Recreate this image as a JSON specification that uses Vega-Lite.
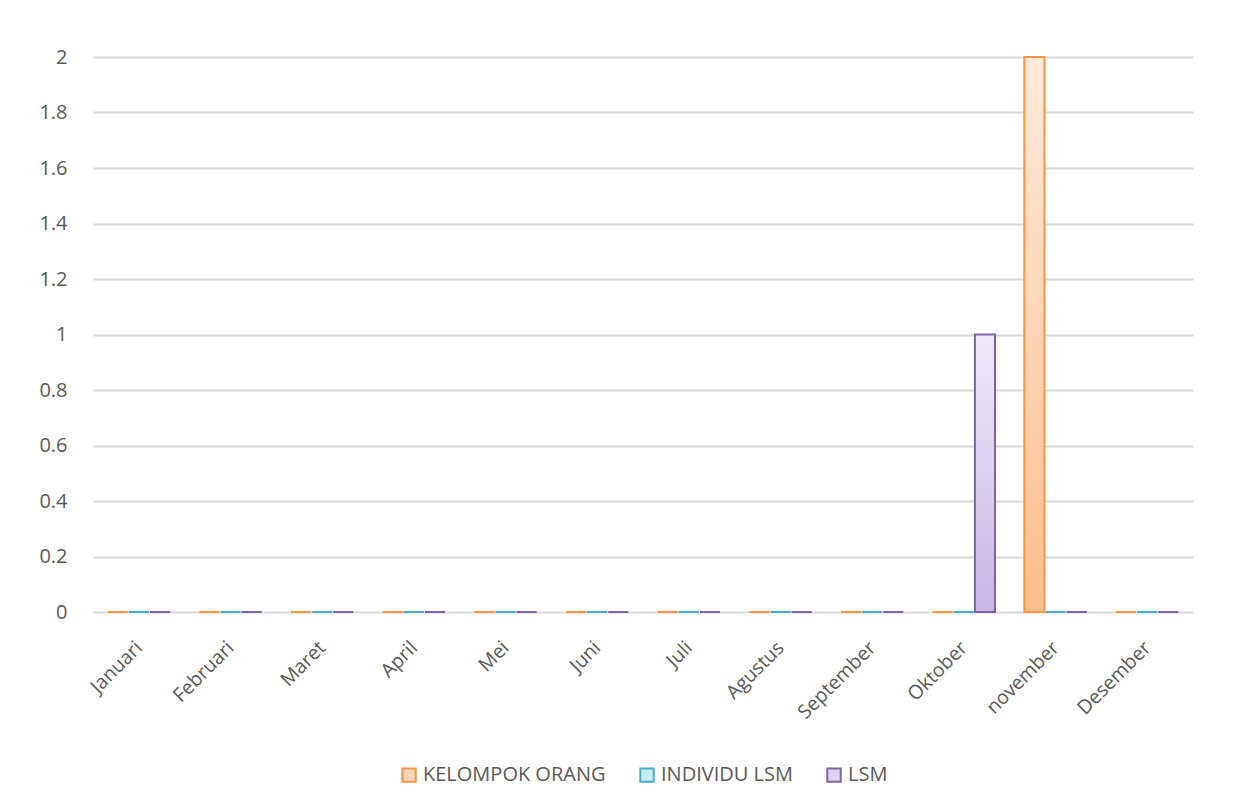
{
  "$schema": "https://vega.github.io/schema/vega-lite/v6.json",
  "width": 1100,
  "height": 555,
  "padding": {"left": 38, "top": 47, "right": 40, "bottom": 10},
  "background": "white",
  "data": {"values": [
    {"bulan":"Januari","seri":"KELOMPOK ORANG","nilai":0},{"bulan":"Januari","seri":"INDIVIDU LSM","nilai":0},{"bulan":"Januari","seri":"LSM","nilai":0},
    {"bulan":"Februari","seri":"KELOMPOK ORANG","nilai":0},{"bulan":"Februari","seri":"INDIVIDU LSM","nilai":0},{"bulan":"Februari","seri":"LSM","nilai":0},
    {"bulan":"Maret","seri":"KELOMPOK ORANG","nilai":0},{"bulan":"Maret","seri":"INDIVIDU LSM","nilai":0},{"bulan":"Maret","seri":"LSM","nilai":0},
    {"bulan":"April","seri":"KELOMPOK ORANG","nilai":0},{"bulan":"April","seri":"INDIVIDU LSM","nilai":0},{"bulan":"April","seri":"LSM","nilai":0},
    {"bulan":"Mei","seri":"KELOMPOK ORANG","nilai":0},{"bulan":"Mei","seri":"INDIVIDU LSM","nilai":0},{"bulan":"Mei","seri":"LSM","nilai":0},
    {"bulan":"Juni","seri":"KELOMPOK ORANG","nilai":0},{"bulan":"Juni","seri":"INDIVIDU LSM","nilai":0},{"bulan":"Juni","seri":"LSM","nilai":0},
    {"bulan":"Juli","seri":"KELOMPOK ORANG","nilai":0},{"bulan":"Juli","seri":"INDIVIDU LSM","nilai":0},{"bulan":"Juli","seri":"LSM","nilai":0},
    {"bulan":"Agustus","seri":"KELOMPOK ORANG","nilai":0},{"bulan":"Agustus","seri":"INDIVIDU LSM","nilai":0},{"bulan":"Agustus","seri":"LSM","nilai":0},
    {"bulan":"September","seri":"KELOMPOK ORANG","nilai":0},{"bulan":"September","seri":"INDIVIDU LSM","nilai":0},{"bulan":"September","seri":"LSM","nilai":0},
    {"bulan":"Oktober","seri":"KELOMPOK ORANG","nilai":0},{"bulan":"Oktober","seri":"INDIVIDU LSM","nilai":0},{"bulan":"Oktober","seri":"LSM","nilai":1},
    {"bulan":"november","seri":"KELOMPOK ORANG","nilai":2},{"bulan":"november","seri":"INDIVIDU LSM","nilai":0},{"bulan":"november","seri":"LSM","nilai":0},
    {"bulan":"Desember","seri":"KELOMPOK ORANG","nilai":0},{"bulan":"Desember","seri":"INDIVIDU LSM","nilai":0},{"bulan":"Desember","seri":"LSM","nilai":0}
  ]},
  "encoding": {
    "x": {
      "field": "bulan", "type": "nominal", "sort": null,
      "scale": {"paddingInner": 0.32, "paddingOuter": 0.16},
      "axis": {"title": null, "labelAngle": -45, "labelFontSize": 19.5, "labelColor": "#595959", "labelFont": "Open Sans", "domain": false, "ticks": false, "labelPadding": 26, "labelOffset": -6}
    },
    "xOffset": {"field": "seri", "type": "nominal", "sort": ["KELOMPOK ORANG","INDIVIDU LSM","LSM"], "scale": {"domain": ["KELOMPOK ORANG","INDIVIDU LSM","LSM"], "paddingInner": 0.05}},
    "y": {
      "field": "nilai", "type": "quantitative",
      "scale": {"domain": [0, 2]},
      "axis": {"title": null, "values": [0,0.2,0.4,0.6,0.8,1,1.2,1.4,1.6,1.8,2], "format": "~g", "labelFontSize": 20, "labelColor": "#595959", "labelFont": "Open Sans", "domain": false, "ticks": false, "labelPadding": 26, "gridColor": "#D9D9D9", "gridWidth": 2}
    },
    "stroke": {
      "field": "seri", "type": "nominal",
      "scale": {"domain": ["KELOMPOK ORANG","INDIVIDU LSM","LSM"], "range": ["#F79646","#4BACC6","#8064A2"]},
      "legend": {"title": null, "orient": "bottom", "direction": "horizontal", "symbolType": "square", "symbolSize": 180, "symbolStrokeWidth": 2, "labelFontSize": 20, "labelLimit": 400, "labelColor": "#595959", "labelFont": "Open Sans", "columnPadding": 30, "labelOffset": 4, "offset": 42}
    }
  },
  "layer": [
    {
      "transform": [{"filter": "datum.seri === 'KELOMPOK ORANG'"}],
      "mark": {"type": "bar", "strokeWidth": 2, "fill": {"gradient":"linear","x1":0,"y1":0,"x2":0,"y2":1,"stops":[{"offset":0,"color":"#FEEADB"},{"offset":1,"color":"#FBBF8C"}]}}
    },
    {
      "transform": [{"filter": "datum.seri === 'INDIVIDU LSM'"}],
      "mark": {"type": "bar", "strokeWidth": 2, "fill": {"gradient":"linear","x1":0,"y1":0,"x2":0,"y2":1,"stops":[{"offset":0,"color":"#E4F4F9"},{"offset":1,"color":"#A8DCEB"}]}}
    },
    {
      "transform": [{"filter": "datum.seri === 'LSM'"}],
      "mark": {"type": "bar", "strokeWidth": 2, "fill": {"gradient":"linear","x1":0,"y1":0,"x2":0,"y2":1,"stops":[{"offset":0,"color":"#EFEAF8"},{"offset":1,"color":"#C8B6E6"}]}}
    },
    {
      "transform": [{"filter": "false"}],
      "mark": {"type": "bar", "strokeWidth": 2},
      "encoding": {
        "fill": {
          "field": "seri", "type": "nominal",
          "scale": {"domain": ["KELOMPOK ORANG","INDIVIDU LSM","LSM"], "range": ["#FCD6B6","#C9EBF5","#DED3EF"]},
          "legend": {"title": null, "orient": "bottom", "direction": "horizontal", "symbolType": "square", "symbolSize": 180, "symbolStrokeWidth": 2, "labelFontSize": 20, "labelLimit": 400, "labelColor": "#595959", "labelFont": "Open Sans", "columnPadding": 30, "labelOffset": 4, "offset": 42}
        }
      }
    }
  ],
  "config": {"view": {"stroke": null}, "legend": {"layout": {"bottom": {"anchor": "middle"}}}}
}
